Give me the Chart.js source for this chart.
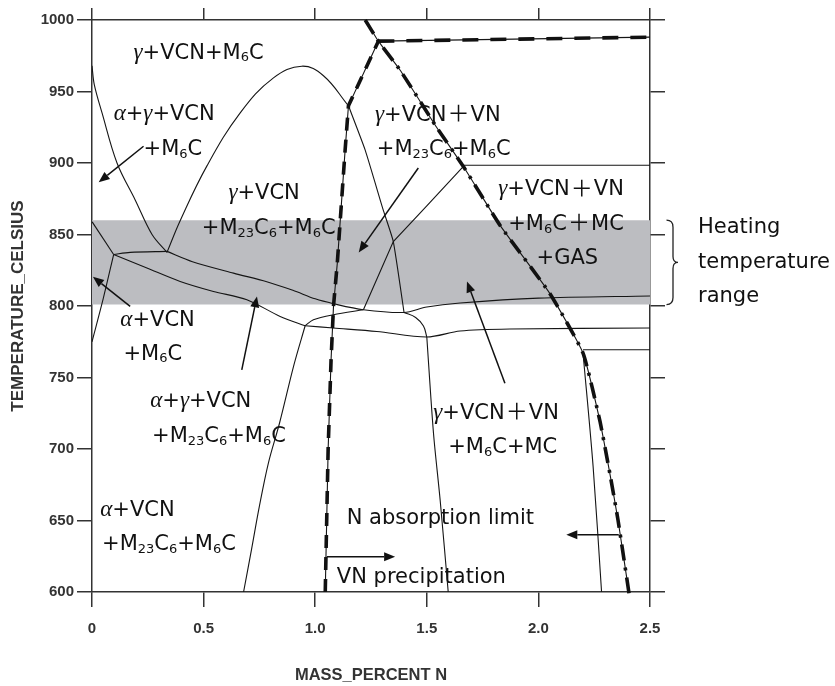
<!DOCTYPE html>
<html><head><meta charset="utf-8">
<script src="https://cdn.jsdelivr.net/npm/chart.js@4.4.1/dist/chart.umd.min.js"></script>
<style>html,body{margin:0;padding:0;background:#fff;}#wrap{width:835px;height:686px;}</style>
</head><body><div id="wrap"><canvas id="c" width="835" height="686"></canvas></div>
<script>
// ---- axis ticks ----
const xTickLabels = ['0', '0.5', '1.0', '1.5', '2.0', '2.5'];
const yTickValues = [600, 650, 700, 750, 800, 850, 900, 950, 1000];
const heatingRange = [801, 860];

// ---- phase boundaries [mass % N, temperature °C] ----
const alphaGammaLeft = [[0,968],[0.01,955],[0.045,935],[0.112,900],[0.194,874],[0.269,850],[0.336,837.5]];
const domeCurve = [[0.336,837.5],[0.396,860],[0.515,898],[0.664,935],[0.813,959.5],[0.94,967.7],[1.037,961],[1.149,940]];
const domeDescent = [[1.149,940],[1.224,909],[1.305,867],[1.35,845],[1.398,795.5]];
const shortTie = [[0.097,836],[0.171,837.5],[0.336,838.2]];
const leftUpper = [[0,859],[0.097,836]];
const leftLower = [[0.097,836],[0.05,805],[0,775]];
const lowerBoundary = [[0.097,836],[0.246,826.6],[0.395,817.2],[0.544,810.2],[0.694,804.4],[0.843,792.7],[0.955,786.2]];
const midBoundary = [[0.336,838.2],[0.45,831],[0.634,823],[0.783,817],[0.9,811],[1.0,805],[1.082,801.6],[1.216,797.4],[1.398,795.5],[1.5,799.3],[1.649,802.1],[2.0,805.5],[2.5,807]];
const riseLine = [[0.955,786.2],[0.992,790.4],[1.082,793.9],[1.216,797.4]];
const lowerRight = [[0.955,786.2],[1.082,784.6],[1.276,782.2],[1.5,778.3],[1.649,782.5],[1.872,783.9],[2.5,784.6]];
const curveJoin = [[1.398,795.5],[1.45,792],[1.485,786],[1.5,778.3]];
const leftVertical = [[0.955,786.2],[0.905,759],[0.84,718],[0.79,690],[0.75,660],[0.715,630],[0.679,600]];
const midVertical = [[1.5,778.3],[1.53,711],[1.56,664],[1.596,600]];
const rightVertical = [[2.2,767],[2.245,688],[2.283,600]];
const upperRise = [[1.216,797.4],[1.35,845],[1.5,870],[1.664,897.7]];
const shelf900 = [[1.664,898.4],[2.5,898.4]];
const shelf770 = [[2.2,769.4],[2.5,769.4]];
const vnLimit = [[1.045,600],[1.058,700],[1.071,762],[1.082,800],[1.099,830],[1.134,909],[1.149,940],[1.283,985.2]];
const topLimit = [[1.283,985.2],[2.5,988]];
const gasLimit = [[1.224,1000],[1.283,985.2],[1.38,965],[1.544,925],[1.664,897.5],[1.83,856],[2.05,809],[2.2,767],[2.275,720],[2.32,683],[2.357,650],[2.41,595]];

// ---- region labels ----
const regionLabels = ['γ+VCN+M_6C','α+γ+VCN','+M_6C','γ+VCN','+M_{23}C_6+M_6C','γ+VCN＋VN','+M_{23}C_6+M_6C','γ+VCN＋VN','+M_6C＋MC','+GAS','α+VCN','+M_6C','α+γ+VCN','+M_{23}C_6+M_6C','α+VCN','+M_{23}C_6+M_6C','γ+VCN＋VN','+M_6C+MC','N absorption limit','VN precipitation'];
const labelAnchorX = [0.186,0.097,0.231,0.611,0.492,1.268,1.276,1.82,1.865,1.992,0.127,0.141,0.261,0.269,0.037,0.045,1.529,1.596,1.141,1.097];
const labelAnchorY = [978.2,935.5,911.0,880.2,855.7,935.0,910.6,882.6,858.5,834.7,791.6,767.8,734.4,709.9,658.6,634.5,726.2,702.4,652.7,611.9];
const arrowStart = [[0.231,911.7],[0.171,799.7],[0.671,755.4],[1.462,896.5],[1.85,746],[1.052,624.7],[2.36,640]];
const arrowEnd = [[0.03,886.5],[0.004,820.5],[0.739,806.7],[1.195,837.5],[1.68,817.2],[1.358,624.7],[2.125,640]];
const sideNote = ['Heating', 'temperature', 'range'];
const sideNoteY = [854.8, 830.6, 806.5];

const toXY = pts => pts.map(p => ({x: p[0], y: p[1]}));
const thin = (pts, tension) => ({data: toXY(pts), borderColor: '#151515', borderWidth: 1.1, pointRadius: 0, tension: tension, fill: false, order: 2});
const dashed = (pts, dash, tension) => ({data: toXY(pts), borderColor: '#111', borderWidth: 3.6, borderDash: dash, borderCapStyle: 'butt', pointRadius: 0, tension: tension, fill: false, order: 1, clip: 8});

const datasets = [
  {data: toXY([[0, heatingRange[1]], [2.5, heatingRange[1]]]), borderWidth: 0, pointRadius: 0, backgroundColor: 'rgb(188,189,193)', fill: {value: heatingRange[0]}, order: 10},
  thin(alphaGammaLeft, 0.35), thin(domeCurve, 0.4), thin(domeDescent, 0.15), thin(shortTie, 0.3),
  thin(leftUpper, 0), thin(leftLower, 0.3), thin(lowerBoundary, 0.3), thin(midBoundary, 0.3),
  thin(riseLine, 0.3), thin(lowerRight, 0.3), thin(curveJoin, 0.4), thin(leftVertical, 0.35),
  thin(midVertical, 0.3), thin(rightVertical, 0.3), thin(upperRise, 0), thin(shelf900, 0), thin(shelf770, 0),
  thin(vnLimit, 0), thin(topLimit, 0), thin(gasLimit, 0.15),
  dashed(vnLimit, [13, 9], 0), dashed(topLimit, [16, 12], 0), dashed(gasLimit, [16, 7, 3, 7], 0.15)
];

function drawRich(ctx, text, x, yMid, size) {
  const segs = [];
  for (let i = 0; i < text.length; i++) {
    const ch = text[i];
    if (ch === '_') {
      let s = '';
      if (text[i + 1] === '{') { let j = i + 2; while (text[j] !== '}') { s += text[j]; j++; } i = j; }
      else { s = text[i + 1]; i++; }
      segs.push({t: s, k: 'sub'});
    } else if (ch === 'α' || ch === 'γ') {
      segs.push({t: ch, k: 'greek'});
    } else if (ch === '＋') {
      segs.push({t: ch, k: 'wide'});
    } else {
      const last = segs[segs.length - 1];
      if (last && last.k === 'n') last.t += ch; else segs.push({t: ch, k: 'n'});
    }
  }
  const base = yMid + size * 0.36;
  let cx = x;
  for (const s of segs) {
    if (s.k === 'wide') {
      // full-width plus centred in a slightly wider than one-em box
      const ws = size * 1.05, adv = size * 1.15;
      ctx.save();
      ctx.font = ws + 'px "Noto Sans CJK JP", "Noto Sans CJK SC", sans-serif';
      ctx.textAlign = 'center';
      ctx.fillText(s.t, cx + adv / 2, base + (ws - size) * 0.38);
      ctx.restore();
      cx += adv;
      continue;
    }
    let dy = 0;
    if (s.k === 'greek') ctx.font = 'italic ' + (size + 2) + 'px "Liberation Serif", serif';
    else if (s.k === 'sub') { ctx.font = Math.round(size * 0.6) + 'px "DejaVu Sans", sans-serif'; dy = size * 0.13; }
    else ctx.font = size + 'px "DejaVu Sans", sans-serif';
    ctx.fillText(s.t, cx, base + dy);
    cx += ctx.measureText(s.t).width;
  }
}

function arrow(ctx, x1, y1, x2, y2) {
  const a = Math.atan2(y2 - y1, x2 - x1), L = 11, W = 4.5;
  const bx = x2 - L * Math.cos(a), by = y2 - L * Math.sin(a);
  ctx.beginPath(); ctx.moveTo(x1, y1); ctx.lineTo(bx, by); ctx.stroke();
  ctx.beginPath(); ctx.moveTo(x2, y2);
  ctx.lineTo(bx + W * Math.sin(a), by - W * Math.cos(a));
  ctx.lineTo(bx - W * Math.sin(a), by + W * Math.cos(a));
  ctx.closePath(); ctx.fill();
}

const annotate = {
  id: 'annotate',
  afterDatasetsDraw(chart) {
    const {ctx, scales: {x, y}, chartArea} = chart;
    ctx.save();
    ctx.fillStyle = '#111'; ctx.strokeStyle = '#111'; ctx.lineWidth = 1.5;
    ctx.textBaseline = 'alphabetic'; ctx.textAlign = 'left';
    regionLabels.forEach((t, i) => drawRich(ctx, t, x.getPixelForValue(labelAnchorX[i]), y.getPixelForValue(labelAnchorY[i]), 21));
    arrowStart.forEach((p, i) => arrow(ctx, x.getPixelForValue(p[0]), y.getPixelForValue(p[1]), x.getPixelForValue(arrowEnd[i][0]), y.getPixelForValue(arrowEnd[i][1])));
    // side note and brace
    const r = chartArea.right;
    ctx.font = '21px "DejaVu Sans", sans-serif';
    ctx.textBaseline = 'middle';
    sideNote.forEach((t, i) => ctx.fillText(t, r + 48, y.getPixelForValue(sideNoteY[i])));
    const yT = y.getPixelForValue(heatingRange[1]), yB = y.getPixelForValue(heatingRange[0]), yM = (yT + yB) / 2;
    const x0 = r + 16.5, xm = x0 + 6.5, xt = x0 + 11.5;
    ctx.lineWidth = 1.3; ctx.strokeStyle = '#222';
    ctx.beginPath();
    ctx.moveTo(x0, yT);
    ctx.quadraticCurveTo(xm, yT, xm, yT + 7);
    ctx.lineTo(xm, yM - 6);
    ctx.quadraticCurveTo(xm, yM, xt, yM);
    ctx.quadraticCurveTo(xm, yM, xm, yM + 6);
    ctx.lineTo(xm, yB - 7);
    ctx.quadraticCurveTo(xm, yB, x0, yB);
    ctx.stroke();
    ctx.restore();
  }
};

const axisColor = '#333';
const gridCommon = (len) => ({drawOnChartArea: false, drawTicks: true, tickLength: len, color: axisColor, lineWidth: 1.5});
const borderCommon = {display: true, color: axisColor, width: 1.5};

new Chart(document.getElementById('c'), {
  type: 'line',
  data: {datasets},
  options: {
    responsive: false, animation: false,
    layout: {padding: 0},
    plugins: {legend: {display: false}, tooltip: {enabled: false}},
    scales: {
      x: {type: 'linear', position: 'bottom', min: 0, max: 2.5,
        ticks: {stepSize: 0.5, padding: 13, color: axisColor, font: {family: '"Liberation Sans", Arial, sans-serif', size: 15, weight: 'bold'},
          callback: v => xTickLabels[Math.round(v / 0.5)]},
        grid: gridCommon(15), border: borderCommon,
        title: {display: true, text: 'MASS_PERCENT N', color: axisColor, padding: {top: 0, bottom: 1},
          font: {family: '"Liberation Sans", Arial, sans-serif', size: 16.5, weight: 'bold'}},
        afterFit: s => { s.height = 94; }},
      x2: {type: 'linear', position: 'top', min: 0, max: 2.5,
        ticks: {stepSize: 0.5, display: false}, grid: gridCommon(12), border: borderCommon,
        afterFit: s => { s.height = 20; }},
      y: {type: 'linear', position: 'left', min: 600, max: 1000,
        ticks: {stepSize: 50, padding: 3, color: axisColor, font: {family: '"Liberation Sans", Arial, sans-serif', size: 15, weight: 'bold'},
          callback: v => yTickValues.includes(v) ? String(v) : ''},
        grid: gridCommon(15), border: borderCommon,
        title: {display: true, text: 'TEMPERATURE_CELSIUS', color: axisColor, padding: {top: 8, bottom: 0},
          font: {family: '"Liberation Sans", Arial, sans-serif', size: 17, weight: 'bold'}},
        afterFit: s => { s.width = 92; }},
      y2: {type: 'linear', position: 'right', min: 600, max: 1000,
        ticks: {stepSize: 50, display: false}, grid: gridCommon(15), border: borderCommon,
        afterFit: s => { s.width = 185; }}
    }
  },
  plugins: [annotate]
});
</script>
</body></html>
